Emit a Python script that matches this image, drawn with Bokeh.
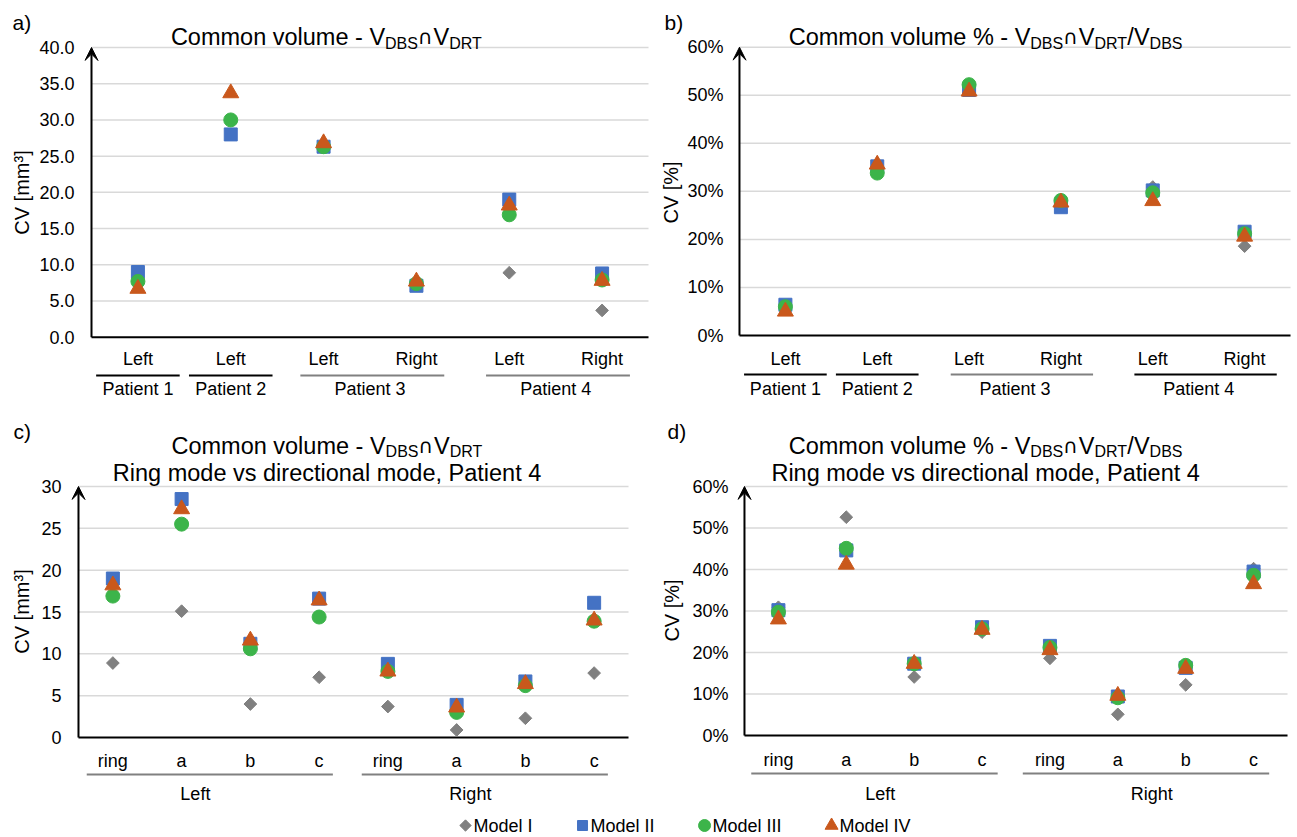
import math
from bokeh.plotting import figure
from bokeh.layouts import row, column
from bokeh.models import (FactorRange, Range1d, FixedTicker, NumeralTickFormatter,
                          PrintfTickFormatter, Arrow, VeeHead, ColumnDataSource)
from bokeh.core.properties import value
from bokeh.embed import file_html
from bokeh.resources import INLINE

NaN = float("nan")

# ---------------- data ----------------
patient_groups = ["Patient 1", "Patient 2", "Patient 3", "Patient 3", "Patient 4", "Patient 4"]
patient_sides = ["Left", "Left", "Left", "Right", "Left", "Right"]

cv_model_1 = [NaN, NaN, NaN, NaN, 8.9, 3.7]
cv_model_2 = [9.0, 28.0, 26.3, 7.1, 19.0, 8.8]
cv_model_3 = [7.7, 30.0, 26.3, 7.4, 16.9, 7.9]
cv_model_4 = [6.7, 33.7, 26.8, 7.7, 18.2, 7.8]

pct_model_1 = [NaN, NaN, NaN, NaN, 30.9, 18.6]
pct_model_2 = [6.4, 35.2, 51.1, 26.7, 30.2, 21.6]
pct_model_3 = [6.0, 33.8, 52.2, 28.1, 29.7, 21.2]
pct_model_4 = [5.0, 35.6, 50.8, 27.7, 28.0, 20.6]

mode_sides = ["Left", "Left", "Left", "Left", "Right", "Right", "Right", "Right"]
modes = ["ring", "a", "b", "c", "ring", "a", "b", "c"]

ring_cv_model_1 = [8.9, 15.1, 4.0, 7.2, 3.7, 0.9, 2.3, 7.7]
ring_cv_model_2 = [19.0, 28.5, 11.2, 16.6, 8.8, 3.9, 6.7, 16.1]
ring_cv_model_3 = [16.9, 25.5, 10.6, 14.4, 7.9, 3.0, 6.2, 13.9]
ring_cv_model_4 = [18.2, 27.3, 11.6, 16.4, 7.9, 3.6, 6.4, 14.0]

ring_pct_model_1 = [30.9, 52.6, 14.1, 24.9, 18.6, 5.1, 12.2, 40.2]
ring_pct_model_2 = [30.2, 44.6, 17.3, 26.1, 21.6, 9.4, 16.3, 39.5]
ring_pct_model_3 = [29.7, 45.1, 17.3, 25.7, 21.2, 9.1, 16.9, 38.6]
ring_pct_model_4 = [28.0, 41.2, 17.3, 25.5, 20.6, 9.6, 16.1, 36.5]

model_names = ["Model I", "Model II", "Model III", "Model IV"]

cv_ticks = [0, 5, 10, 15, 20, 25, 30, 35, 40]
pct_ticks = [0, 10, 20, 30, 40, 50, 60]
ring_cv_ticks = [0, 5, 10, 15, 20, 25, 30]

# ---------------- style ----------------
FONT = "Liberation Sans"
SYM_FONT = "DejaVu Sans"
COLORS = ["#808080", "#4472c4", "#3cb44a", "#c9581c"]
MARKERS = ["square", "square", "circle", "triangle"]
ANGLES = [math.pi / 4, 0, 0, 0]
SIZES = [9, 13, 14, 16]
LEG_SIZES = [8, 10, 12, 13]
TITLE_SIZE = 23.5
SUB_SIZE = 16
SYM_SIZE = 20
LABEL_SIZE = 18
PAD = 7  # px of empty frame left of the arrow axis

ADV = {'C': 722, 'o': 556, 'm': 833, 'n': 556, ' ': 278, 'v': 500, 'l': 222, 'u': 556,
       'e': 556, '-': 333, 'V': 667, 'D': 722, 'B': 667, 'S': 667, 'R': 722, 'T': 611,
       '%': 889, '/': 278, '\u2229': 780, 'M': 833, 'd': 556, 'I': 278, 'i': 222, 'g': 556,
       's': 500, 'r': 333, 'c': 500, 't': 278, 'a': 556, ',': 278, 'P': 667}

SEG_STYLE = {"main": (FONT, TITLE_SIZE, 0), "sub": (FONT, SUB_SIZE, 6), "sym": (SYM_FONT, SYM_SIZE, 0)}


def text_width(s, size):
    return sum(ADV.get(ch, 556) for ch in s) / 1000.0 * size


def add_text(p, xs, ys, texts, size, align="center", baseline="middle", angle=0.0, xo=None,
             font=FONT):
    src = ColumnDataSource(dict(x=xs, y=ys, text=texts, xo=xo if xo is not None else [0] * len(xs)))
    p.text(x="x", y="y", text="text", x_offset="xo", source=src, angle=angle,
           text_font=value(font), text_font_size=value(f"{size}px"),
           text_align=align, text_baseline=baseline, text_color="black")


def helper_fig(x0, x1, y0, y1):
    f = figure(width=int(x1 - x0), height=int(y1 - y0), x_range=Range1d(x0, x1),
               y_range=Range1d(-y1, -y0), x_axis_location=None, y_axis_location=None,
               toolbar_location=None, output_backend="svg", min_border=0,
               outline_line_color=None)
    f.grid.visible = False
    return f


def make_panel(cfg, groups, subs, series, ticks, formatter):
    top, bottom = cfg["top"], cfg["bottom"]
    h = int(bottom - top)

    # side figure: panel letter and y axis title
    lab = helper_fig(cfg["left"], cfg["split"], top, bottom)
    add_text(lab, [cfg["letter_x"]], [-cfg["letter_y"]], [cfg["letter"]], 21, align="left")
    add_text(lab, [cfg["ylabel_x"]], [-cfg["ylabel_y"]], [cfg["ylabel"]], 20, angle=math.pi / 2)

    # main figure
    factors = list(zip(groups, subs))
    n = len(factors)
    axis_x, data_end = cfg["axis_x"], cfg["data_end"]
    cat_px = (data_end - axis_x) / n
    xr = FactorRange(factors=factors, factor_padding=0, group_padding=0, subgroup_padding=0,
                     range_padding=PAD / cat_px, range_padding_units="absolute")
    frame_left, frame_right = axis_x - PAD, data_end + PAD
    ymax = cfg["ymax"]
    per = (cfg["y0_px"] - cfg["ytop_px"]) / ymax

    def py(r):
        return (cfg["y0_px"] - r) / per

    def pxs(r):
        return (r - axis_x) / cat_px

    yr = Range1d(py(bottom), py(top))
    p = figure(width=int(cfg["right"] - cfg["split"]), height=h, x_range=xr, y_range=yr,
               x_axis_location=None, toolbar_location=None, output_backend="svg",
               min_border_left=int(round(frame_left - cfg["split"])),
               min_border_right=int(round(cfg["right"] - frame_right)),
               min_border_top=0, min_border_bottom=0, outline_line_color=None)
    ax = p.yaxis[0]
    ax.ticker = FixedTicker(ticks=ticks)
    ax.formatter = formatter
    ax.axis_line_color = None
    ax.major_tick_line_color = None
    ax.minor_tick_line_color = None
    ax.major_tick_out = 0
    ax.major_tick_in = 0
    ax.major_label_standoff = int(round(frame_left - cfg["tick_right"]))
    ax.major_label_text_font = FONT
    ax.major_label_text_font_size = f"{LABEL_SIZE}px"
    ax.major_label_text_color = "black"
    p.grid.visible = False

    # horizontal gridlines from the axis to the end of the categories
    gt = [t for t in ticks if t != 0]
    p.segment(x0=[0] * len(gt), x1=[n] * len(gt), y0=gt, y1=gt,
              line_color="#d9d9d9", line_width=1.5)
    # x axis line
    p.segment(x0=[0], x1=[n], y0=[0], y1=[0], line_color="black", line_width=2)

    for i, vals in enumerate(series):
        p.scatter(x=factors, y=vals, marker=MARKERS[i], size=SIZES[i], angle=ANGLES[i],
                  fill_color=COLORS[i], line_color=COLORS[i])

    # y axis arrow
    p.add_layout(Arrow(end=VeeHead(size=13, fill_color="black", line_color="black", line_width=1),
                       x_start=0, y_start=0, x_end=0, y_end=ymax,
                       line_color="black", line_width=2))

    # category labels
    add_text(p, factors, [py(cfg["cat_y"])] * n, list(subs), LABEL_SIZE)

    # group labels and underlines
    order = []
    spans = {}
    for i, g in enumerate(groups):
        if g not in spans:
            order.append(g)
            spans[g] = [i, i]
        spans[g][1] = i
    x0s, x1s, gx = [], [], []
    for g in order:
        a, b = spans[g]
        if a == b:
            x0s.append(a + 0.5 - cfg["pad_single"])
            x1s.append(b + 0.5 + cfg["pad_single"])
        else:
            x0s.append(a + 0.5 - cfg["pad_l"])
            x1s.append(b + 0.5 + cfg["pad_r"])
        gx.append((a + b) / 2 + 0.5 + (cfg["group_shift"] if a != b else 0))
    yl = py(cfg["line_y"])
    p.segment(x0=x0s, x1=x1s, y0=[yl] * len(order), y1=[yl] * len(order),
              line_color=cfg["line_colors"], line_width=2)
    add_text(p, gx, [py(cfg["group_y"])] * len(order), order, LABEL_SIZE)

    # title (with subscripts)
    cx = pxs(cfg["title_cx"])
    for segs, base in cfg["title"]:
        widths = [text_width(t, SEG_STYLE[k][1]) for t, k in segs]
        off = -sum(widths) / 2
        for (t, k), w in zip(segs, widths):
            font, size, dy = SEG_STYLE[k]
            add_text(p, [cx], [py(base + dy)], [t], size, align="left",
                     baseline="alphabetic", xo=[off], font=font)
            off += w
    return row(lab, p)


CAP = "\u2229"
T_CV = [("Common volume - V", "main"), ("DBS", "sub"), (CAP, "sym"), ("V", "main"),
        ("DRT", "sub")]
T_PCT = [("Common volume % - V", "main"), ("DBS", "sub"), (CAP, "sym"), ("V", "main"),
         ("DRT", "sub"), ("/V", "main"), ("DBS", "sub")]
T_RING = [("Ring mode vs directional mode, Patient 4", "main")]

SPLIT_X = 656
cfg_a = dict(left=0, split=36, axis_x=91, data_end=648, right=SPLIT_X, top=0, bottom=405,
             ytop_px=47, y0_px=336.7, ymax=40, cat_y=358, line_y=375, group_y=388,
             title_cx=326, title=[(T_CV, 36.5)], letter="a)", letter_x=12, letter_y=22,
             ylabel="CV [mm\u00b3]", ylabel_x=21, ylabel_y=192, tick_right=74,
             pad_single=0.45, pad_l=0.25, pad_r=0.3, group_shift=0,
             line_colors=["black", "black", "#808080", "#808080"])
cfg_b = dict(left=SPLIT_X, split=684, axis_x=737, data_end=1290, right=1297, top=0, bottom=405,
             ytop_px=46.7, y0_px=335, ymax=60, cat_y=358, line_y=374, group_y=388,
             title_cx=984, title=[(T_PCT, 36.5)], letter="b)", letter_x=664, letter_y=22,
             ylabel="CV [%]", ylabel_x=670, ylabel_y=192, tick_right=721,
             pad_single=0.45, pad_l=0.2, pad_r=0.35, group_shift=0,
             line_colors=["black", "black", "#808080", "black"])
cfg_c = dict(left=0, split=38, axis_x=77, data_end=628, right=SPLIT_X, top=405, bottom=808,
             ytop_px=486, y0_px=737, ymax=30, cat_y=760, line_y=774, group_y=793,
             title_cx=326, title=[(T_CV, 445), (T_RING, 472)], letter="c)", letter_x=13,
             letter_y=431, ylabel="CV [mm\u00b3]", ylabel_x=21, ylabel_y=611, tick_right=60,
             pad_single=0.45, pad_l=0.38, pad_r=0.2, group_shift=-0.3,
             line_colors=["#808080", "#808080"])
cfg_d = dict(left=SPLIT_X, split=689, axis_x=742, data_end=1287, right=1297, top=405, bottom=808,
             ytop_px=486, y0_px=735, ymax=60, cat_y=759, line_y=773, group_y=793,
             title_cx=984, title=[(T_PCT, 445), (T_RING, 472)], letter="d)", letter_x=667,
             letter_y=431, ylabel="CV [%]", ylabel_x=671, ylabel_y=610, tick_right=726,
             pad_single=0.45, pad_l=0.4, pad_r=0.23, group_shift=0,
             line_colors=["#808080", "#808080"])

panel_a = make_panel(cfg_a, patient_groups, patient_sides,
                     [cv_model_1, cv_model_2, cv_model_3, cv_model_4], cv_ticks,
                     NumeralTickFormatter(format="0.0"))
panel_b = make_panel(cfg_b, patient_groups, patient_sides,
                     [pct_model_1, pct_model_2, pct_model_3, pct_model_4], pct_ticks,
                     PrintfTickFormatter(format="%d%%"))
panel_c = make_panel(cfg_c, mode_sides, modes,
                     [ring_cv_model_1, ring_cv_model_2, ring_cv_model_3, ring_cv_model_4],
                     ring_cv_ticks, NumeralTickFormatter(format="0"))
panel_d = make_panel(cfg_d, mode_sides, modes,
                     [ring_pct_model_1, ring_pct_model_2, ring_pct_model_3, ring_pct_model_4],
                     pct_ticks, PrintfTickFormatter(format="%d%%"))

# ---------------- legend ----------------
leg = helper_fig(0, 1297, 808, 837)
leg_y = -825
cx = 465
for i, name in enumerate(model_names):
    leg.scatter(x=[cx], y=[leg_y], marker=MARKERS[i], size=LEG_SIZES[i], angle=ANGLES[i],
                fill_color=COLORS[i], line_color=COLORS[i])
    add_text(leg, [cx + 8], [leg_y], [name], LABEL_SIZE, align="left")
    cx += 8 + text_width(name, LABEL_SIZE) + 50

layout = column(row(panel_a, panel_b), row(panel_c, panel_d), leg)

with open("out.html", "w") as f:
    f.write(file_html(layout, INLINE))
